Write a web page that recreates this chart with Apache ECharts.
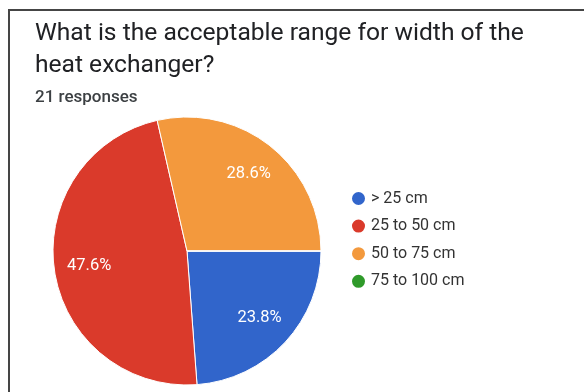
<!DOCTYPE html>
<html>
<head>
<meta charset="utf-8">
<script src="https://cdn.jsdelivr.net/npm/echarts@6/dist/echarts.min.js"></script>
<style>
  html, body { margin: 0; padding: 0; background: #fff; }
  #chart { width: 584px; height: 392px; }
</style>
</head>
<body>
<div id="chart"></div>
<script>
// Survey answers: width ranges and response counts
const categories = ['> 25 cm', '25 to 50 cm', '50 to 75 cm', '75 to 100 cm'];
const counts = [5, 10, 6, 0];
const colors = ['#3165cb', '#da3a2b', '#f3993d', '#2f9a2a'];
const titleLines = ['What is the acceptable range for width of the', 'heat exchanger?'];
const responsesText = '21 responses';

const total = counts.reduce((a, b) => a + b, 0);
const pieData = categories.map((name, i) => ({
  name: name,
  value: counts[i],
  itemStyle: { color: colors[i] }
}));

const chart = echarts.init(document.getElementById('chart'), null, { renderer: 'canvas' });

const center = [187, 251];
const outerR = 134;

chart.setOption({
  animation: false,
  backgroundColor: '#ffffff',
  title: {
    text: titleLines.join('\n'),
    subtext: responsesText,
    left: 30,
    top: 13,
    itemGap: 8,
    textStyle: {
      fontFamily: 'Roboto',
      fontSize: 24.6,
      fontWeight: 'normal',
      lineHeight: 32,
      color: '#202124'
    },
    subtextStyle: {
      fontFamily: 'Roboto',
      fontSize: 17,
      fontWeight: 500,
      lineHeight: 16,
      color: '#3c4043'
    }
  },
  legend: {
    orient: 'vertical',
    left: 345,
    top: 185,
    icon: 'circle',
    itemWidth: 15,
    itemHeight: 15,
    itemGap: 10.6,
    data: categories,
    textStyle: {
      fontFamily: 'Roboto',
      fontSize: 16,
      lineHeight: 15,
      color: '#333333'
    }
  },
  graphic: [
    { type: 'line', shape: { x1: 8, y1: 10, x2: 584, y2: 10 }, style: { stroke: '#454545', lineWidth: 2 } },
    { type: 'line', shape: { x1: 9, y1: 9, x2: 9, y2: 392 }, style: { stroke: '#454545', lineWidth: 2 } }
  ],
  series: [
    {
      type: 'pie',
      center: center,
      radius: [0, outerR],
      startAngle: 0,
      clockwise: true,
      avoidLabelOverlap: false,
      label: { show: false },
      labelLine: { show: false },
      itemStyle: { borderColor: '#ffffff', borderWidth: 1 },
      emphasis: { disabled: true },
      data: pieData
    },
    {
      // transparent ring used only to place percentage labels further out
      type: 'pie',
      center: center,
      radius: [58, outerR],
      startAngle: 0,
      clockwise: true,
      silent: true,
      legendHoverLink: false,
      avoidLabelOverlap: false,
      labelLine: { show: false },
      label: {
        show: true,
        position: 'inside',
        color: '#ffffff',
        fontFamily: 'Roboto',
        fontSize: 16.5,
        formatter: p => p.value ? (p.value / total * 100).toFixed(1) + '%' : ''
      },
      emphasis: { disabled: true },
      data: categories.map((name, i) => ({
        name: name,
        value: counts[i],
        itemStyle: { color: 'rgba(0,0,0,0)', borderWidth: 0 }
      }))
    }
  ]
});
</script>
</body>
</html>
